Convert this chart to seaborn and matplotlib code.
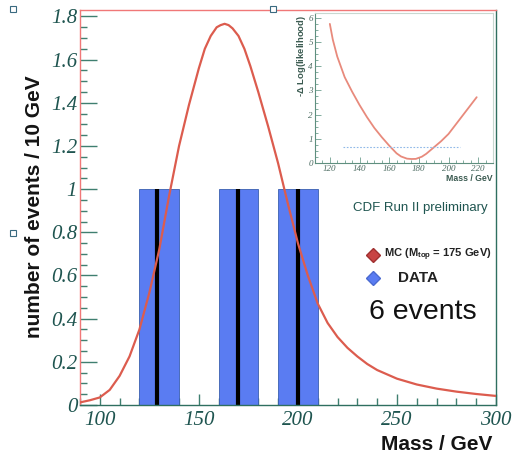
import matplotlib
matplotlib.use("Agg")
import matplotlib.pyplot as plt
from matplotlib.lines import Line2D
from matplotlib.ticker import MultipleLocator
import seaborn as sns
import numpy as np
import pandas as pd

# ---------------- data ----------------
mc_mass = [90, 95, 100, 105, 110, 115, 120, 125, 130, 135, 140, 145, 150, 153,
           156, 159, 161, 163, 165, 167, 170, 173, 176, 180, 185, 190, 195, 200,
           205, 210, 215, 220, 225, 230, 235, 240, 250, 260, 270, 280, 290, 300]
mc_events = [0.012, 0.022, 0.035, 0.07, 0.135, 0.225, 0.35, 0.52, 0.72, 0.97,
             1.20, 1.39, 1.56, 1.65, 1.71, 1.75, 1.76, 1.766, 1.76, 1.745, 1.71,
             1.65, 1.57, 1.45, 1.29, 1.12, 0.93, 0.75, 0.60, 0.47, 0.38, 0.315,
             0.265, 0.225, 0.19, 0.162, 0.122, 0.095, 0.076, 0.062, 0.051, 0.042]

bar_left = [120, 160, 190]
bar_right = [140, 180, 210]
bar_counts = [1, 1, 1]
data_mass = [129, 170, 200]

lik_mass = [120, 122, 125, 130, 135, 140, 145, 150, 155, 160, 165, 168, 172,
            175, 178, 182, 185, 190, 195, 200, 205, 210, 215, 219]
lik_value = [5.75, 5.1, 4.4, 3.55, 2.95, 2.4, 1.9, 1.45, 1.07, 0.72, 0.40, 0.27,
             0.18, 0.165, 0.17, 0.26, 0.38, 0.64, 0.9, 1.2, 1.6, 2.0, 2.4, 2.72]
lik_ref_x = [129, 208]
lik_ref_y = [0.68, 0.68]

main_xticks = [100, 150, 200, 250, 300]
main_yticks = [0, 0.2, 0.4, 0.6, 0.8, 1, 1.2, 1.4, 1.6, 1.8]
main_yticklabels = ["0", "0.2", "0.4", "0.6", "0.8", "1", "1.2", "1.4", "1.6", "1.8"]
inset_xticks = [120, 140, 160, 180, 200, 220]
inset_yticks = [0, 1, 2, 3, 4, 5, 6]

# ---------------- style ----------------
sns.set_theme(style="ticks")
plt.rcParams["font.family"] = ["Liberation Sans", "DejaVu Sans"]
plt.rcParams["mathtext.fontset"] = "custom"
plt.rcParams["mathtext.rm"] = "Liberation Sans:bold"
plt.rcParams["mathtext.bf"] = "Liberation Sans:bold"
plt.rcParams["mathtext.it"] = "Liberation Sans:bold"

TEAL = "#1f5550"
TICK = "#3f7f70"
RED_CURVE = "#dc5c4e"
BAR_BLUE = "#5a7cf2"

fig = plt.figure(figsize=(5.13, 4.55), dpi=100)
fig.patch.set_facecolor("white")

W, H = 513, 455
def fax(l, r, t, b):
    return [l / W, (H - b) / H, (r - l) / W, (b - t) / H]

ax = fig.add_axes(fax(80, 496, 10, 405))

# bars
ax.bar(bar_left, bar_counts, width=np.array(bar_right) - np.array(bar_left),
       align="edge", color=BAR_BLUE, edgecolor="#3a5fb0", linewidth=0.6, zorder=1)
# data lines
ax.vlines(data_mass, 0, bar_counts, color="black", linewidth=3, zorder=2)

mc_df = pd.DataFrame({"mass": mc_mass, "events": mc_events})
sns.lineplot(data=mc_df, x="mass", y="events", ax=ax, color=RED_CURVE,
             linewidth=1.6, estimator=None, sort=False, zorder=3)
for l in ax.lines:
    l.set_solid_joinstyle("round")

ax.set_xlim(90, 300)
ax.set_ylim(0, 1.83)
ax.set_xticks(main_xticks)
ax.set_yticks(main_yticks)
ax.set_yticklabels(main_yticklabels)
ax.xaxis.set_minor_locator(MultipleLocator(10))
ax.yaxis.set_minor_locator(MultipleLocator(0.05))
ax.tick_params(which="both", direction="in", color=TICK, width=1,
               top=False, right=False)
ax.tick_params(which="major", length=10)
ax.tick_params(which="minor", length=5)
ax.tick_params(axis="y", which="major", length=12, pad=2)
ax.tick_params(axis="x", which="major", length=8, pad=4)
for lab in ax.get_xticklabels() + ax.get_yticklabels():
    lab.set_family(["Liberation Serif"])
    lab.set_style("italic")
    lab.set_fontsize(15)
    lab.set_color(TEAL)

ax.spines["left"].set_color("#f07878")
ax.spines["top"].set_color("#f07878")
ax.spines["bottom"].set_color("#2f6f60")
ax.spines["right"].set_color("#2f6f60")
for s in ax.spines.values():
    s.set_linewidth(1.0)

ax.set_xlabel("")
ax.set_ylabel("")
fig.text(35 / W, 1 - 207 / H, "number of events / 10 GeV", rotation=90,
         ha="center", va="center", fontsize=15, fontweight="bold", color="#141414")
fig.text(492 / W, 1 - 445 / H, "Mass / GeV", ha="right", va="center",
         fontsize=15, fontweight="bold", color="#141414")

# legend texts
fig.text(420 / W, 1 - 208 / H, "CDF Run II preliminary", ha="center", va="center",
         fontsize=9.5, color=TEAL)
fig.add_artist(Line2D([373 / W], [1 - 255 / H], marker="D", ms=7, color="#c84444",
                      mec="#a03030", linestyle="none", transform=fig.transFigure))
fig.add_artist(Line2D([373 / W], [1 - 278 / H], marker="D", ms=7, color=BAR_BLUE,
                      mec="#4a6ad0", linestyle="none", transform=fig.transFigure))
fig.text(384 / W, 1 - 255 / H, r"MC (M$_{top}$ = 175 GeV)", ha="left", va="center",
         fontsize=8, fontweight="bold", color="#222222")
fig.text(398 / W, 1 - 278 / H, "DATA", ha="left", va="center",
         fontsize=11, fontweight="bold", color="#222222")
fig.text(369 / W, 1 - 312 / H, "6 events", ha="left", va="center",
         fontsize=20.5, color="#111111")

# selection markers
for (px, py) in [(13, 9), (13, 233), (273, 9)]:
    fig.add_artist(Line2D([px / W], [1 - py / H], marker="s", ms=4, mfc="white",
                          mec="#3a6a80", mew=0.8, linestyle="none",
                          transform=fig.transFigure))

# ---------------- inset ----------------
ax2 = fig.add_axes(fax(315, 493, 13, 163))
ax2.set_facecolor("white")
lik_df = pd.DataFrame({"mass": lik_mass, "value": lik_value})
sns.lineplot(data=lik_df, x="mass", y="value", ax=ax2, color="#e88a7c",
             linewidth=1.3, estimator=None, sort=False)
ax2.plot(lik_ref_x, lik_ref_y, color="#8fb8e8", linewidth=0.8, linestyle=(0, (1.5, 1.5)))
ax2.set_xlim(110, 230)
ax2.set_ylim(0, 6.2)
ax2.set_xticks(inset_xticks)
ax2.set_yticks(inset_yticks)
ax2.xaxis.set_minor_locator(MultipleLocator(5))
ax2.yaxis.set_minor_locator(MultipleLocator(0.25))
ax2.tick_params(which="both", direction="in", color="#6fa090", width=0.6,
                top=False, right=False, pad=1.5)
ax2.tick_params(which="major", length=4)
ax2.tick_params(which="minor", length=2)
for lab in ax2.get_xticklabels() + ax2.get_yticklabels():
    lab.set_family(["Liberation Serif"])
    lab.set_style("italic")
    lab.set_fontsize(6.5)
    lab.set_color("#4a6a60")
for sname, s in ax2.spines.items():
    s.set_linewidth(0.8)
    s.set_color("#5f8f7f" if sname in ("left", "bottom") else "#c8d8d0")
ax2.set_xlabel("")
ax2.set_ylabel("")
fig.text(302 / W, 1 - 56 / H, r"-$\Delta$ Log(likelihood)", rotation=90,
         ha="center", va="center", fontsize=6.8, fontweight="bold", color="#3a5a50")
fig.text(493 / W, 1 - 179 / H, "Mass / GeV", ha="right", va="center",
         fontsize=6.3, fontweight="bold", color="#3a5a50")

fig.savefig("out.png", dpi=100, facecolor="white")
